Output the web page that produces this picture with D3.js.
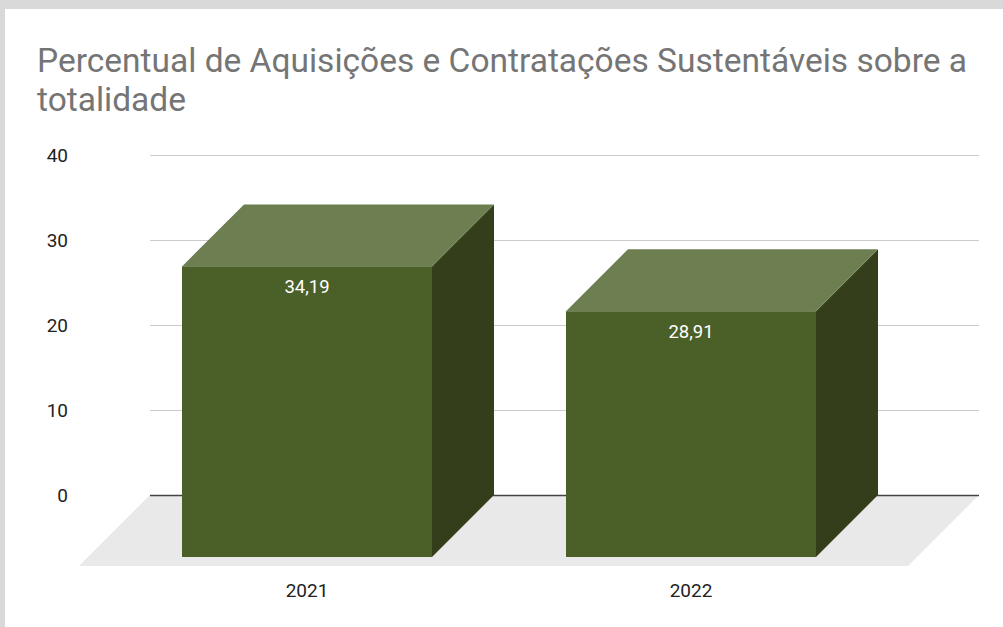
<!DOCTYPE html>
<html><head><meta charset="utf-8">
<script src="https://cdn.jsdelivr.net/npm/d3@7"></script>
<style>
html,body{margin:0;padding:0;background:#d9d9d9;}
svg{display:block;}
</style></head>
<body>
<svg id="chart" width="1003" height="627"></svg>
<script>
const titleLines = ["Percentual de Aquisições e Contratações Sustentáveis sobre a", "totalidade"];
const categories = ["2021", "2022"];
const values = [34.19, 28.91];
const valueLabels = ["34,19", "28,91"];
const yTicks = [0, 10, 20, 30, 40];

const svg = d3.select("#chart");
// white chart panel
svg.append("rect").attr("x", 5).attr("y", 9).attr("width", 998).attr("height", 618).attr("fill", "#ffffff");

const y = d3.scaleLinear().domain([0, 40]).range([495, 155]);
const x = d3.scaleBand().domain(categories).range([115, 883]).paddingInner(0.349).paddingOuter(0.1745);
const depth = 62;      // bar depth offset
const floorDepth = 71; // floor depth offset
const plotLeft = 150, plotRight = 979;

// title
const title = svg.append("text").attr("font-family", "Roboto, sans-serif").attr("font-size", 33.5).attr("fill", "#757575");
titleLines.forEach((t, i) => title.append("tspan").attr("x", 37).attr("y", 72 + i * 39).text(t));

// gridlines
svg.append("g").selectAll("line").data(yTicks.filter(d => d !== 0)).join("line")
  .attr("x1", plotLeft).attr("x2", plotRight)
  .attr("y1", d => Math.round(y(d)) + 0.5).attr("y2", d => Math.round(y(d)) + 0.5)
  .attr("stroke", "#cccccc").attr("stroke-width", 1);

// y tick labels
svg.append("g").selectAll("text").data(yTicks).join("text")
  .attr("x", 68).attr("y", d => y(d)).attr("dy", "0.35em")
  .attr("text-anchor", "end").attr("font-family", "Roboto, sans-serif").attr("font-size", 19).attr("fill", "#222222")
  .text(d => d);

// floor
const y0 = y(0);
svg.append("path")
  .attr("d", `M${plotLeft},${y0}L${plotRight},${y0}L${plotRight - floorDepth},${y0 + floorDepth}L${plotLeft - floorDepth},${y0 + floorDepth}Z`)
  .attr("fill", "#e9e9e9");
// zero line
svg.append("line").attr("x1", plotLeft).attr("x2", plotRight).attr("y1", y0 + 0.5).attr("y2", y0 + 0.5)
  .attr("stroke", "#444444").attr("stroke-width", 1.5);

// bars
const bars = svg.append("g").selectAll("g").data(categories.map((c, i) => ({c, v: values[i], l: valueLabels[i]}))).join("g");
bars.each(function(d) {
  const g = d3.select(this);
  const x0 = x(d.c), w = x.bandwidth();
  const yt = y(d.v) + depth, yb = y0 + depth;
  // side
  g.append("path").attr("d", `M${x0 + w},${yt}L${x0 + w + depth},${yt - depth}L${x0 + w + depth},${yb - depth}L${x0 + w},${yb}Z`).attr("fill", "#343e1b");
  // top
  g.append("path").attr("d", `M${x0},${yt}L${x0 + depth},${yt - depth}L${x0 + w + depth},${yt - depth}L${x0 + w},${yt}Z`).attr("fill", "#6d7e51");
  // front
  g.append("rect").attr("x", x0).attr("y", yt).attr("width", w).attr("height", yb - yt).attr("fill", "#4b5f29");
  // value label
  g.append("text").attr("x", x0 + w / 2).attr("y", yt + 27).attr("text-anchor", "middle")
    .attr("font-family", "Roboto, sans-serif").attr("font-size", 18.5).attr("fill", "#ffffff").text(d.l);
});

// category labels
svg.append("g").selectAll("text").data(categories).join("text")
  .attr("x", d => x(d) + x.bandwidth() / 2).attr("y", 590).attr("dy", "0.35em")
  .attr("text-anchor", "middle").attr("font-family", "Roboto, sans-serif").attr("font-size", 19).attr("fill", "#222222")
  .text(d => d);
</script>
</body></html>
